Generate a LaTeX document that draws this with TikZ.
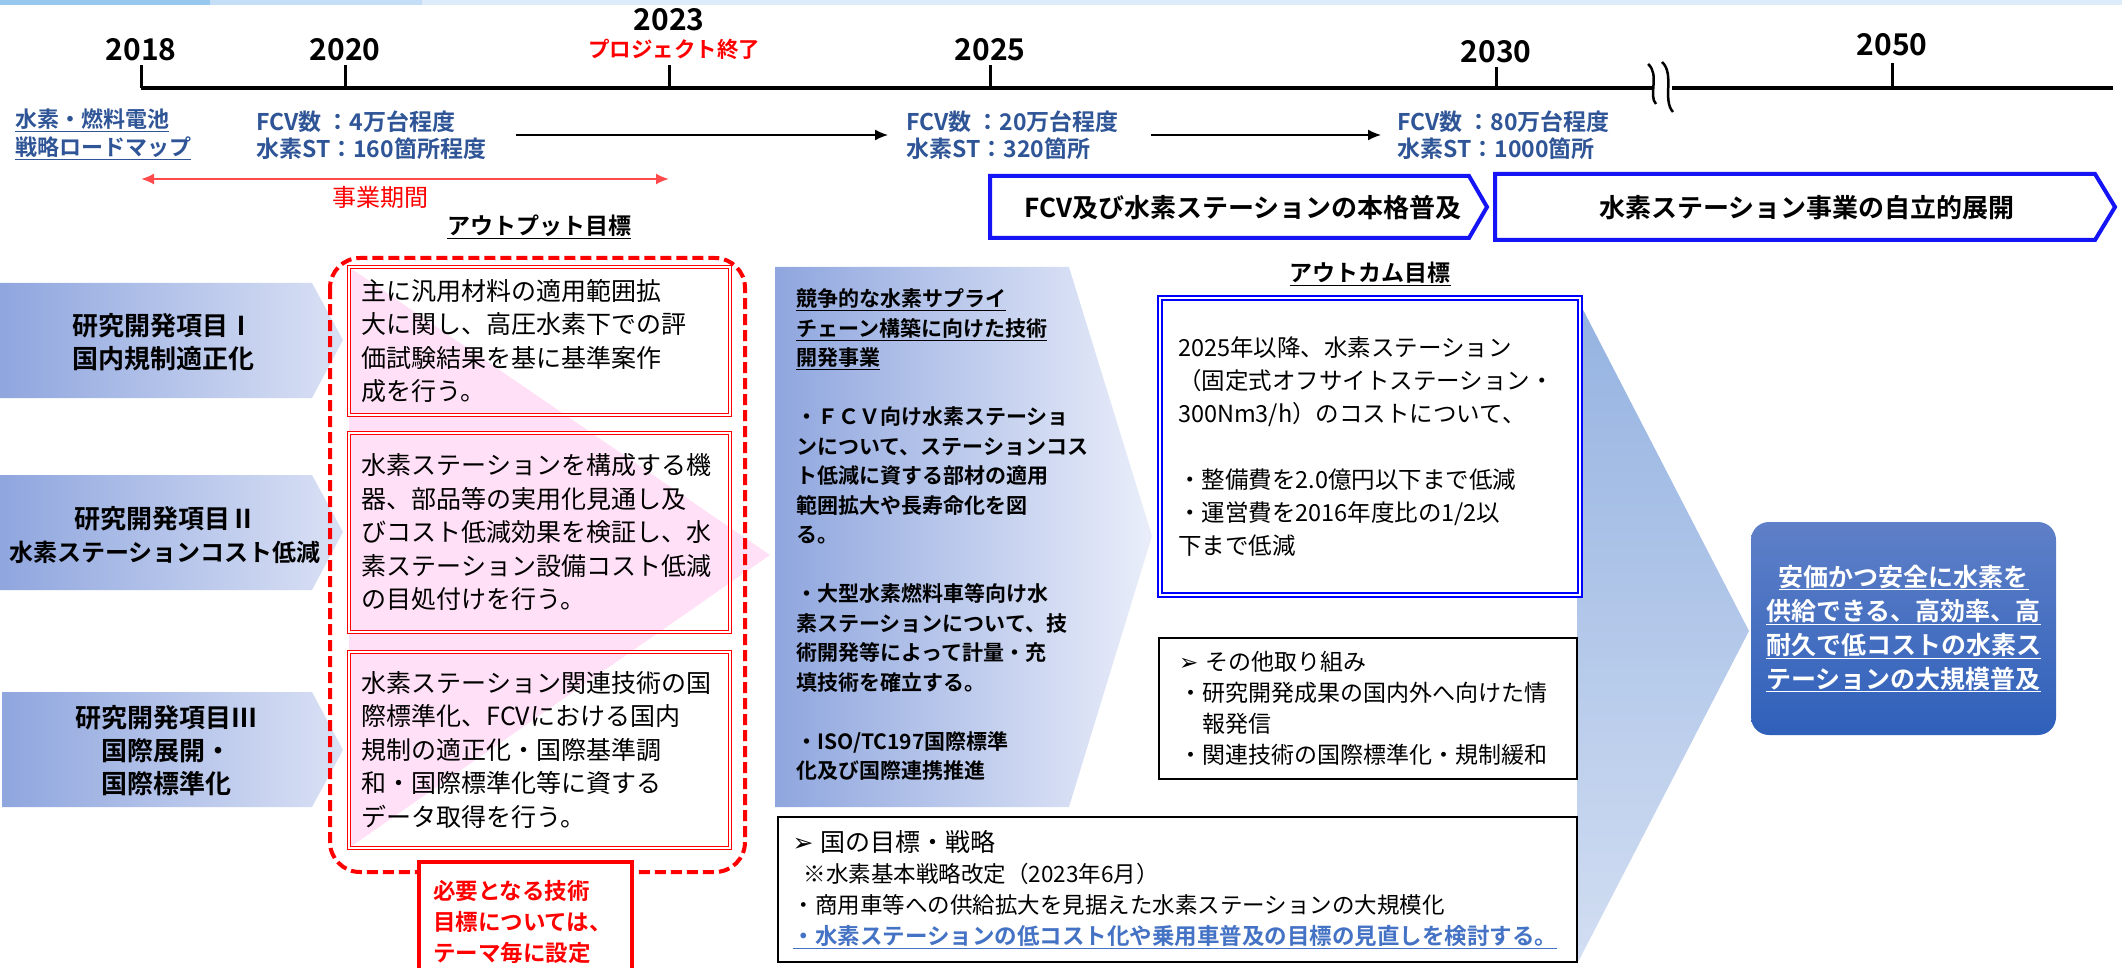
\documentclass[tikz,border=0pt]{standalone}
\usepackage{fontspec}
\setmainfont{Noto Sans CJK JP}[BoldFont={Noto Sans CJK JP Bold}]
\newfontfamily\symfont{DejaVu Sans}
\usetikzlibrary{arrows.meta}

\definecolor{navy}{RGB}{47,85,151}
\definecolor{linkblue}{RGB}{68,114,196}
\definecolor{itemL}{RGB}{143,166,222}
\definecolor{itemR}{RGB}{218,225,245}
\definecolor{midR}{RGB}{234,238,250}
\definecolor{pinkbg}{RGB}{255,224,246}
\definecolor{chevblue}{RGB}{20,20,245}
\definecolor{spanred}{RGB}{255,75,75}
\definecolor{goalT}{RGB}{95,128,200}
\definecolor{goalB}{RGB}{47,96,186}
\definecolor{wedgeT}{RGB}{148,178,225}
\definecolor{wedgeB}{RGB}{210,222,242}
\definecolor{stripA}{RGB}{150,200,240}
\definecolor{stripB}{RGB}{195,222,246}
\definecolor{stripC}{RGB}{222,235,250}

\newcommand{\fs}[2]{\fontsize{#1}{#2}\selectfont}
\newcommand{\ul}[1]{\underline{#1}}

\newcommand{\timeaxis}{
    \coordinate (t18) at (141,88);
    \coordinate (t20) at (345,88);
    \coordinate (t23) at (669,88);
    \coordinate (t25) at (990,88);
    \coordinate (t30) at (1496,88);
    \coordinate (t50) at (1892,88);

    \coordinate (brkL) at (1652,88);
    \coordinate (brkR) at (1672,88);
    \coordinate (tEnd) at (2113,88);

    \coordinate (sp0) at (141,179);
    \coordinate (sp1) at (669,179);
}

\tikzset{
  year/.style={font=\fs{30}{34}\bfseries},
  fcv/.style={font=\fs{23}{27}\bfseries, text=navy, align=left, anchor=west, inner sep=2pt},
  itemshade/.style={left color=itemL, right color=itemR},
  itemtext/.style={font=\fs{26}{33}\bfseries, align=center},
  outbox/.style={draw=red, double=white, double distance=2pt, line width=1.2pt,
                 minimum width=381pt, text width=356pt, align=left, font=\fs{25}{33.5}},
  chev/.style={draw=chevblue, line width=4pt, fill=white, line join=miter},
  chevtext/.style={font=\fs{26}{30}\bfseries},
  title/.style={font=\fs{23}{27}\bfseries},
  plainbox/.style={draw=black, line width=1.3pt, fill=white, align=left},
  goal/.style={rounded corners=18pt, top color=goalT, bottom color=goalB, text=white,
               minimum width=305pt, minimum height=213pt, align=center, font=\fs{25}{34}\bfseries},
}

\begin{document}
\begin{tikzpicture}[x=1pt,y=-1pt]
    \useasboundingbox (0,0) rectangle (2122,968);
    \timeaxis;

    % strip on top
    \fill[stripC] (0,0) rectangle (2122,5);
    \fill[stripA] (0,0) rectangle (210,5);
    \fill[stripB] (210,0) rectangle (422,5);

    % pink wedge behind the output boxes
    \fill[pinkbg] (349,267) -- (770,555) -- (349,848) -- cycle;

    % research items
    \shade[itemshade] (0,283) -- (312,283) -- (343,340) -- (312,398) -- (0,398) -- cycle;
    \shade[itemshade] (0,475) -- (312,475) -- (343,532) -- (312,590) -- (0,590) -- cycle;
    \shade[itemshade] (2,692) -- (312,692) -- (343,750) -- (312,807) -- (2,807) -- cycle;
    \node[itemtext] (item1) at (163,342) {研究開発項目Ⅰ\\国内規制適正化};
    \node[itemtext] (item2) at (165,535) {研究開発項目Ⅱ\\{\fs{24}{33}水素ステーションコスト低減}};
    \node[itemtext] (item3) at (166,751) {研究開発項目Ⅲ\\国際展開・\\国際標準化};

    % middle arrow
    \shade[left color=itemL, right color=midR] (775,267) -- (1069,267) -- (1152,536) -- (1069,807) -- (775,807) -- cycle;
    \node[font=\fs{21}{29.5}\bfseries, align=left, anchor=west, inner sep=0pt] (supply) at (796,535)
      {\ul{競争的な水素サプライ}\\\ul{チェーン構築に向けた技術}\\\ul{開発事業}\\[29.5pt]
       ・ＦＣＶ向け水素ステーショ\\ンについて、ステーションコス\\ト低減に資する部材の適用\\範囲拡大や長寿命化を図\\る。\\[29.5pt]
       ・大型水素燃料車等向け水\\素ステーションについて、技\\術開発等によって計量・充\\填技術を確立する。\\[29.5pt]
       ・ISO/TC197国際標準\\化及び国際連携推進};

    % wedge towards the goal
    \shade[top color=wedgeT, bottom color=wedgeB] (1577,298) -- (1749,631) -- (1577,964) -- cycle;

    % output targets
    \draw[red, line width=4pt, dash pattern=on 11pt off 5pt, rounded corners=30pt] (330,258) rectangle (745,872);
    \node[outbox, minimum height=148pt] (outA) at (539.5,341)
      {主に汎用材料の適用範囲拡\\大に関し、高圧水素下での評\\価試験結果を基に基準案作\\成を行う。};
    \node[outbox, minimum height=199pt] (outB) at (539.5,532.5)
      {水素ステーションを構成する機\\器、部品等の実用化見通し及\\びコスト低減効果を検証し、水\\素ステーション設備コスト低減\\の目処付けを行う。};
    \node[outbox, minimum height=196pt] (outC) at (539.5,750)
      {水素ステーション関連技術の国\\際標準化、FCVにおける国内\\規制の適正化・国際基準調\\和・国際標準化等に資する\\データ取得を行う。};
    \node[draw=red, line width=4pt, fill=white, text=red, anchor=north, minimum width=213pt, minimum height=120pt,
          text width=185pt, align=left, font=\fs{22.5}{31}\bfseries] (techgoal) at (525.5,860)
      {必要となる技術\\目標については、\\テーマ毎に設定};
    \node[title] (outTitle) at (539,227) {\ul{アウトプット目標}};

    % outcome targets
    \node[title] (ocTitle) at (1370,274) {\ul{アウトカム目標}};
    \node[draw=blue, double=white, double distance=2.5pt, line width=1.3pt, fill=white,
          minimum width=420pt, minimum height=297pt, text width=384pt, align=left,
          font=\fs{23.5}{33}] (outcome) at (1370,446.5)
      {2025年以降、水素ステーション\\（固定式オフサイトステーション・\\300Nm3/h）のコストについて、\\[33pt]
       ・整備費を2.0億円以下まで低減\\・運営費を2016年度比の1/2以\\下まで低減};
    \node[plainbox, minimum width=418pt, minimum height=141pt, text width=378pt, font=\fs{23}{31}] (others) at (1368,708.5)
      {{\symfont ➢} その他取り組み\\・研究開発成果の国内外へ向けた情\\\hspace*{1em}報発信\\・関連技術の国際標準化・規制緩和};
    \node[plainbox, minimum width=799pt, minimum height=145pt, text width=770pt, font=\fs{22.5}{31}] (policy) at (1177.5,889.5)
      {{\fs{25}{31}{\symfont ➢} 国の目標・戦略}\\
       \hspace*{0.5em}※水素基本戦略改定（2023年6月）\\
       ・商用車等への供給拡大を見据えた水素ステーションの大規模化\\
       {\color{linkblue}\bfseries\ul{・水素ステーションの低コスト化や乗用車普及の目標の見直しを検討する。}}};

    \node[goal] (goalbox) at (1903.5,628.5)
      {\ul{安価かつ安全に水素を}\\\ul{供給できる、高効率、高}\\\ul{耐久で低コストの水素ス}\\\ul{テーションの大規模普及}};

    % time axis
    \draw[line width=4.5pt] (t18) -- (brkL);
    \draw[line width=4.5pt] (brkR) -- (tEnd);
    \draw[line width=3pt] (t18) -- +(0,-23);
    \draw[line width=3pt] (t20) -- +(0,-23);
    \draw[line width=3pt] (t23) -- +(0,-23);
    \draw[line width=3pt] (t25) -- +(0,-23);
    \draw[line width=3pt] (t30) -- +(0,-21);
    \draw[line width=3pt] (t50) -- +(0,-25);
    \draw[line width=2.5pt] (1648,64) .. controls (1660,74) and (1648,96) .. (1656,104); % break
    \draw[line width=2.5pt] (1662,62) .. controls (1675,74) and (1662,100) .. (1673,112);

    \node[year] (y18) at (141,50) {2018};
    \node[year] (y20) at (345,50) {2020};
    \node[year] (y23) at (669,20) {2023};
    \node[font=\fs{21.5}{25}\bfseries, text=red] (pend) at (674,49) {プロジェクト終了};
    \node[year] (y25) at (990,50) {2025};
    \node[year] (y30) at (1496,52) {2030};
    \node[year] (y50) at (1892,45) {2050};

    \node[fcv, font=\fs{22}{28}\bfseries, anchor=west] (roadmap) at (13,134) {\ul{水素・燃料電池}\\\ul{戦略ロードマップ}};
    \node[fcv] (fcvA) at (254,135) {FCV数~：4万台程度\\水素ST：160箇所程度};
    \node[fcv] (fcvB) at (904,135) {FCV数~：20万台程度\\水素ST：320箇所};
    \node[fcv] (fcvC) at (1395,135) {FCV数~：80万台程度\\水素ST：1000箇所};
    \draw[line width=1.5pt, -{Latex[length=13pt,width=11pt]}, shorten <=28pt, shorten >=16pt] (fcvA.east) -- (fcvB.west);
    \draw[line width=1.5pt, -{Latex[length=13pt,width=11pt]}, shorten <=30pt, shorten >=14pt] (fcvB.east) -- (fcvC.west);

    \draw[spanred, line width=2pt, {Latex[length=13pt,width=11pt]}-{Latex[length=13pt,width=11pt]}] (sp0) -- (sp1);
    \node[font=\fs{24}{28}, text=red] (period) at (380,197) {事業期間};

    % phases
    \draw[chev] (990,176) -- (1469,176) -- (1487,207) -- (1469,238) -- (990,238) -- cycle;
    \draw[chev] (1495,174) -- (2095,174) -- (2115,207) -- (2095,240) -- (1495,240) -- cycle;
    \node[chevtext] (phase1) at (1243,208) {FCV及び水素ステーションの本格普及};
    \node[chevtext] (phase2) at (1807,208) {水素ステーション事業の自立的展開};
\end{tikzpicture}
\end{document}
